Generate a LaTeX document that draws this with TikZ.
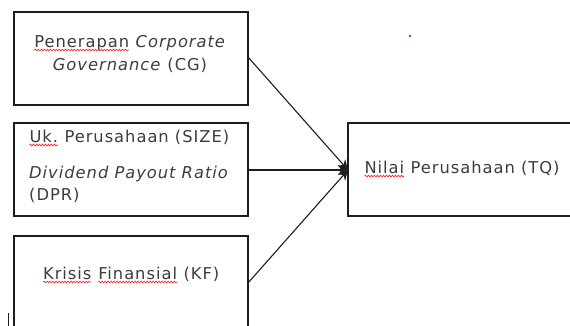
\documentclass[tikz,border=0pt]{standalone}
\usepackage{fontspec}
\setmainfont[LetterSpace=6]{DejaVu Sans}
\usetikzlibrary{arrows.meta,decorations.pathmorphing}
\definecolor{txt}{RGB}{60,60,60}
\definecolor{ln}{RGB}{30,30,30}
\newcommand\spellerr[1]{\tikz[baseline=(w.base)]{\node[inner sep=0pt,outer sep=0pt] (w) {#1};
  \draw[red!85,line width=0.7pt,decorate,decoration={snake,amplitude=0.8pt,segment length=3pt}]
    ([yshift=-3pt]w.base west) -- ([yshift=-3pt]w.base east);}}
\begin{document}
\begin{tikzpicture}[x=1pt,y=-1pt,
  box/.style={draw=ln,line width=1.2pt},
  lbl/.style={text=txt,font=\fontsize{16.3}{19}\selectfont,inner sep=0pt},
  conn/.style={draw=ln,line width=1.1pt,-{Stealth[length=10pt,width=10pt]}}]
\useasboundingbox (0,0) rectangle (570,325);
\begin{scope}
\clip (0,0) rectangle (570,325);
\draw[box] (14,12) rectangle (248,105);
\draw[box] (14,123) rectangle (248,216);
\draw[box] (14,236) rectangle (248,340);
\draw[box] (348,123) rectangle (580,216);
\draw[ln,line width=0.8pt] (8,313) -- (8,330);
\end{scope}
\coordinate (cg) at (248,57);
\coordinate (sz) at (248,170);
\coordinate (kf) at (248,283);
\coordinate (tq) at (348,170);
\node[lbl,anchor=base] (t1) at (130,47) {\spellerr{Penerapan} \textit{Corporate}};
\node[lbl,anchor=base] (t2) at (130,70) {\textit{Governance} (CG)};
\node[lbl,anchor=base west] (t3) at (29,142) {\spellerr{Uk.} Perusahaan (SIZE)};
\node[lbl,anchor=base west] (t4) at (29,178) {\textit{Dividend Payout Ratio}};
\node[lbl,anchor=base west] (t5) at (29,200) {(DPR)};
\node[lbl,anchor=base] (t6) at (131,279) {\spellerr{Krisis} \spellerr{Finansial} (KF)};
\node[lbl,anchor=base west] (t7) at (364,173) {\spellerr{Nilai} Perusahaan (TQ)};
\fill[blue!70] (410,36) circle (1.3pt);
\draw[conn] (cg) -- (tq);
\draw[conn] (sz) -- (tq);
\draw[conn] (kf) -- (tq);
\end{tikzpicture}
\end{document}
